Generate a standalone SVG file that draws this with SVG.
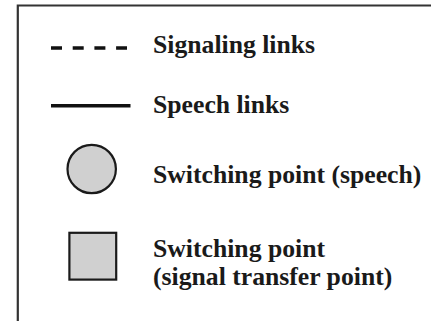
<svg xmlns="http://www.w3.org/2000/svg" width="431" height="321" viewBox="0 0 431 321">
<style>
.lbl{font-family:"Liberation Serif","Times New Roman",serif;font-weight:bold;font-size:25.7px;fill:#1a1a1a}
.shape{fill:#d0d0d0;stroke:#1a1a1a;stroke-width:2.2}
</style>
<rect width="431" height="321" fill="#ffffff"/>
<g id="frame">
<path d="M17.8 330 V5.5 H440" fill="none" stroke="#333333" stroke-width="2.2"/>
</g>
<g id="connectors">
<line id="signaling-link" x1="51" y1="48" x2="127" y2="48" stroke="#111111" stroke-width="3.6" stroke-dasharray="11 10.7"/>
<line id="speech-link" x1="51" y1="105.8" x2="130.5" y2="105.8" stroke="#111111" stroke-width="3.6"/>
</g>
<g id="switch-speech">
<circle class="shape" cx="91.7" cy="169" r="24.2"/>
</g>
<g id="switch-stp">
<rect class="shape" x="69.4" y="232.8" width="46.8" height="46.8"/>
</g>
<g id="labels">
<text class="lbl" x="153" y="52.5">Signaling links</text>
<text class="lbl" x="153" y="113">Speech links</text>
<text class="lbl" x="153" y="182.7">Switching point (speech)</text>
<text class="lbl" x="153" y="256.5">Switching point</text>
<text class="lbl" x="153" y="285">(signal transfer point)</text>
</g>
</svg>
